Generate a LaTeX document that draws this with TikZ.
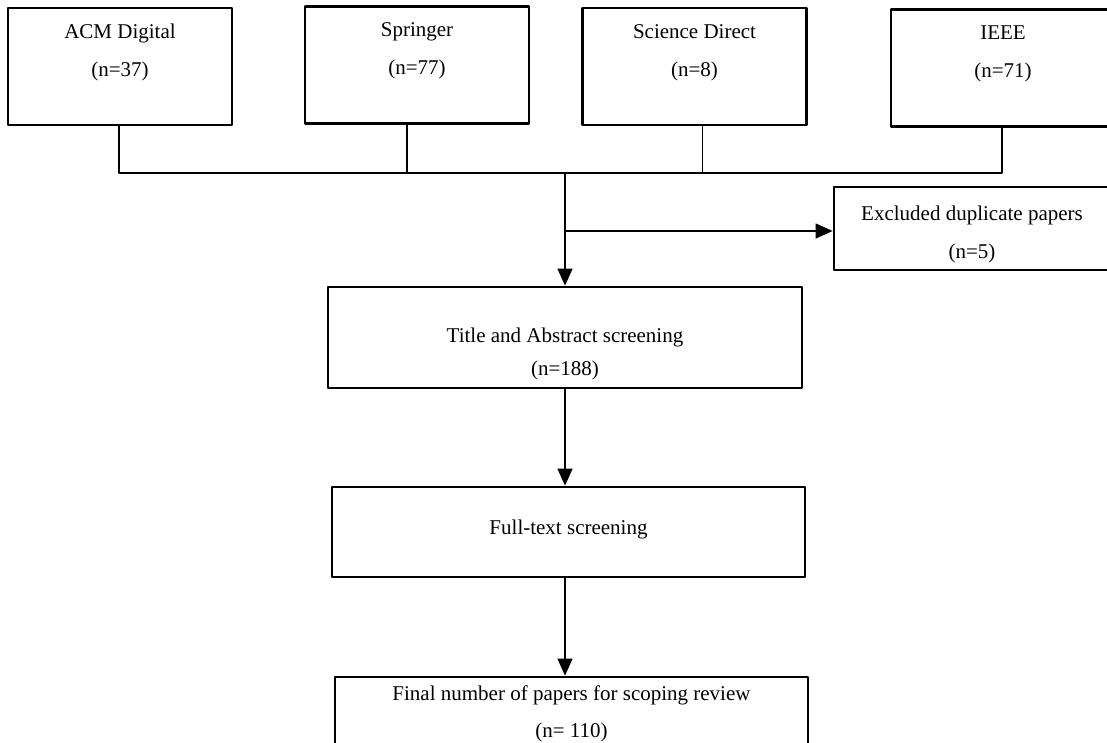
\documentclass[tikz,border=0pt]{standalone}
\usepackage{fontspec}
\setmainfont{Liberation Serif}
\usetikzlibrary{arrows.meta}
\begin{document}
\begin{tikzpicture}[x=1pt, y=-1pt, font=\fontsize{21}{38}\selectfont, line join=round, >={Triangle[length=17pt,width=15pt]},
box/.style={draw, line width=2.8pt, align=center, inner sep=0pt},
src/.style={box, minimum width=224pt, minimum height=117pt, text height=53pt, text depth=34pt},
link/.style={line width=1.3pt}]
\useasboundingbox (0,0) rectangle (1107,742);
% databases
\node[src] (acm) at (120,66.5) {ACM Digital\\(n=37)};
\node[src] (springer) at (417,65) {Springer\\(n=77)};
\node[src] (sd) at (694.5,66.5) {Science Direct\\(n=8)};
\node[src] (ieee) at (1003,68) {IEEE\\(n=71)};
% screening steps
\node[box, minimum width=276pt, minimum height=83pt, text height=60pt, text depth=1pt] (excl) at (972,228.5) {Excluded duplicate papers\\(n=5)};
\node[box, minimum width=474pt, minimum height=101pt, text height=80pt, text depth=5pt] (title) at (565,337.5) {Title and Abstract screening\\[-5pt](n=188)};
\node[box, minimum width=473pt, minimum height=90pt, text height=15pt, text depth=11pt] (full) at (568.5,532) {Full-text screening};
\node[box, minimum width=473pt, minimum height=100pt, text height=53pt, text depth=33pt] (final) at (571.5,727) {Final number of papers for scoping review\\[-1pt](n= 110)};
\coordinate (bus) at (565,173);
\coordinate (split) at (565,231);
% connectors
\draw[link] ([xshift=-1pt]acm.south) |- (bus);
\draw[link] ([xshift=-1pt]ieee.south) |- (bus);
\draw[link] ([xshift=-10pt]springer.south) -- ([xshift=-10pt]springer.south |- bus);
\draw[link] ([xshift=8pt]sd.south) -- ([xshift=8pt]sd.south |- bus);
\draw[link,->] (bus) -- (title.north);
\draw[link,->] (split) -- (split -| excl.west);
\draw[link,->] (title.south) -- (title.south |- full.north);
\draw[link,->] (title.south |- full.south) -- (title.south |- final.north);
\end{tikzpicture}
\end{document}
